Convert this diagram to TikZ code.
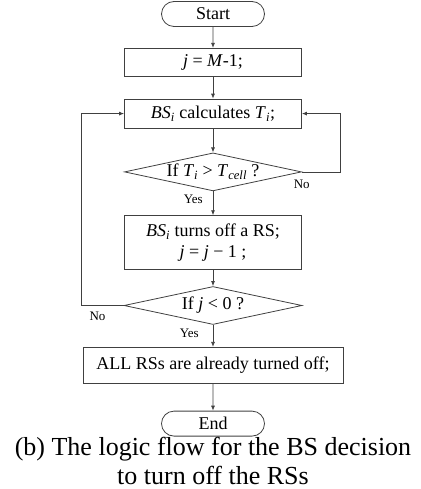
\documentclass[tikz,border=0pt]{standalone}
\usepackage{fontspec}
\setmainfont{Liberation Serif}
\usetikzlibrary{positioning,shapes.geometric,shapes.misc,arrows.meta}
\definecolor{linegray}{HTML}{404040}
\newcommand{\vr}[1]{\textit{#1}}
\newcommand{\sbi}[1]{\textsubscript{\textit{#1}}}

\begin{document}
\begin{tikzpicture}[
		every node/.style={font=\fontsize{18}{21}\selectfont},
		flow/.style={
			draw=linegray,
			line width=0.8pt,
			-{Latex[length=5pt,width=4pt]}
		},
		terminal/.style={
			rounded rectangle,
			draw=linegray,
			line width=0.8pt,
			minimum width=103pt,
			minimum height=25pt,
			inner sep=0pt
		},
		stepbox/.style={
			rectangle,
			draw=linegray,
			line width=0.8pt,
			minimum width=177pt,
			minimum height=28pt,
			inner sep=2pt,
			align=center
		},
		decision/.style={
			diamond,
			draw=linegray,
			line width=0.8pt,
			aspect=4.6,
			minimum width=177pt,
			minimum height=38pt,
			inner sep=0pt
		},
		lbl/.style={font=\fontsize{13}{15}\selectfont, inner sep=1pt}
	]
		\useasboundingbox (0,0) rectangle (420pt,-489pt);

		\node[terminal] (start) at (213pt,-14pt) {Start};
		\node[stepbox, below=21pt of start] (init)
			{\vr{j} = \vr{M}-1;};
		\node[stepbox, minimum height=29pt, below=22pt of init] (calc)
			{\vr{BS}\sbi{i} calculates \vr{T}\sbi{i};};
		\node[decision, below=24pt of calc] (ifT)
			{If \vr{T}\sbi{i} > \vr{T}\sbi{cell} ?};
		\node[stepbox, minimum height=54pt, below=24pt of ifT] (off)
			{\vr{BS}\sbi{i} turns off a RS;\\ \vr{j} = \vr{j} − 1 ;};
		\node[decision, minimum width=178pt, below=16pt of off] (ifj)
			{If \vr{j} < 0 ?};
		\node[stepbox, minimum width=260pt, minimum height=36pt, below=22pt of ifj] (done)
			{ALL RSs are already turned off;};
		\node[terminal, below=27pt of done] (end) {End};

		\node[font=\fontsize{26}{29}\selectfont, align=center, inner sep=0pt, below=0pt of end] (caption)
			{(b) The logic flow for the BS decision\\ to turn off the RSs};

		% labels
		\node[lbl, below left=2pt and 9pt of ifT.south] (yes1) {Yes};
		\node[lbl, below left=7pt and -9pt of ifT.east] (no1) {No};
		\node[lbl, below left=3pt and 13pt of ifj.south] (yes2) {Yes};
		\node[lbl, below left=5pt and 17pt of ifj.west] (no2) {No};

		% main flow
		\draw[flow] (start) -- (init);
		\draw[flow] (init) -- (calc);
		\draw[flow] (calc) -- (ifT);
		\draw[flow] (ifT) -- (off);
		\draw[flow] (off) -- (ifj);
		\draw[flow] (ifj) -- (done);
		\draw[flow] (done) -- (end);

		% loops back
		\draw[flow] (ifT.east) -- ++(38pt,0) |- (calc.east);
		\draw[flow] (ifj.west) -- ++(-42pt,0) |- (calc.west);
	\end{tikzpicture}
\end{document}
